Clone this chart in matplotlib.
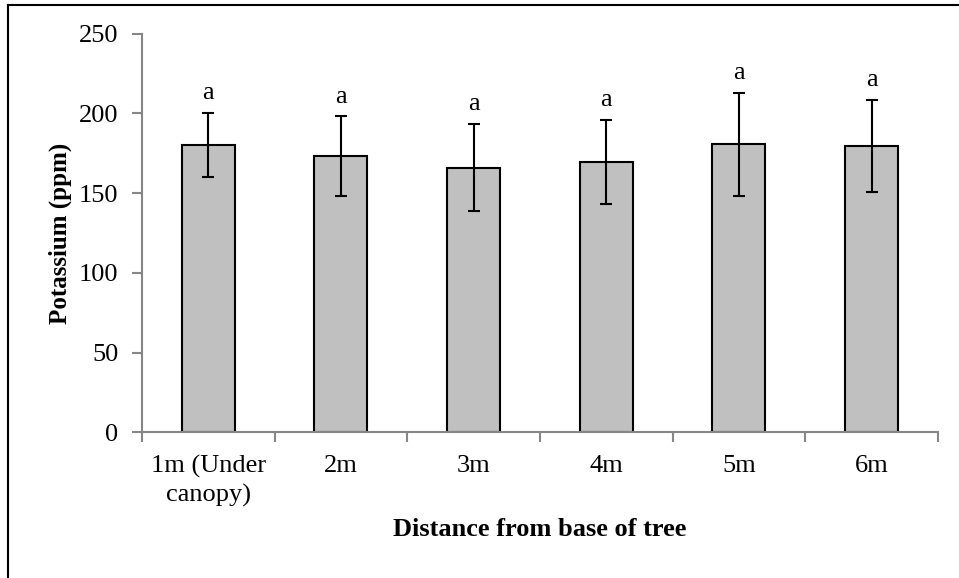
import numpy as np
import matplotlib
matplotlib.use('Agg')
from matplotlib import pyplot as plt
from matplotlib.lines import Line2D

categories = ['1m (Under\ncanopy)', '2m', '3m', '4m', '5m', '6m']
potassium = [180, 173, 166, 169.5, 180.5, 179.5]
errors = [20, 25, 27.5, 26.5, 32.5, 29]
letters = ['a', 'a', 'a', 'a', 'a', 'a']

plt.rcParams['font.family'] = ['Liberation Serif', 'DejaVu Serif']

fig = plt.figure(figsize=(9.59, 5.78), dpi=100)
ax = fig.add_axes([0.148, 0.252, 0.830, 0.690])

x = np.arange(len(categories))
ax.bar(x, potassium, width=0.4, color='#c0c0c0', edgecolor='black', linewidth=1.5, zorder=2)
ax.errorbar(x, potassium, yerr=errors, fmt='none', ecolor='black', elinewidth=1.5,
            capsize=4.5, capthick=1.5, zorder=3)
for xi, m, e, t in zip(x, potassium, errors, letters):
    ax.text(xi, m + e + 12.5, t, ha='center', va='center', fontsize=19)

ax.set_xlim(-0.5, len(categories) - 0.5)
ax.set_ylim(0, 250)
ax.set_yticks([0, 50, 100, 150, 200, 250])
ax.set_xticks(np.arange(-0.5, len(categories), 1.0))
ax.set_xticklabels([])
ax.set_xticks(x, minor=True)
ax.set_xticklabels(categories, minor=True, fontsize=19, linespacing=1.36)
ax.tick_params(axis='x', which='minor', length=0, pad=16)
ax.tick_params(axis='x', which='major', direction='out', length=7, color='#868686', width=1.5)
ax.tick_params(axis='y', direction='out', length=7, color='#868686', width=1.5, labelsize=19, pad=10)

for s in ['top', 'right']:
    ax.spines[s].set_visible(False)
for s in ['left', 'bottom']:
    ax.spines[s].set_color('#868686')
    ax.spines[s].set_linewidth(1.5)

ax.set_ylabel('Potassium (ppm)', fontsize=18, fontweight='bold', labelpad=5)
ax.set_xlabel('Distance from base of tree', fontsize=19, fontweight='bold', labelpad=8)

# border lines visible in the original picture
fig.add_artist(Line2D([8/959, 8/959], [0, 1 - 5/578], transform=fig.transFigure, color='black', lw=1.5))
fig.add_artist(Line2D([8/959, 1], [1 - 5/578, 1 - 5/578], transform=fig.transFigure, color='black', lw=1.5))

fig.savefig('out.png', dpi=100)
